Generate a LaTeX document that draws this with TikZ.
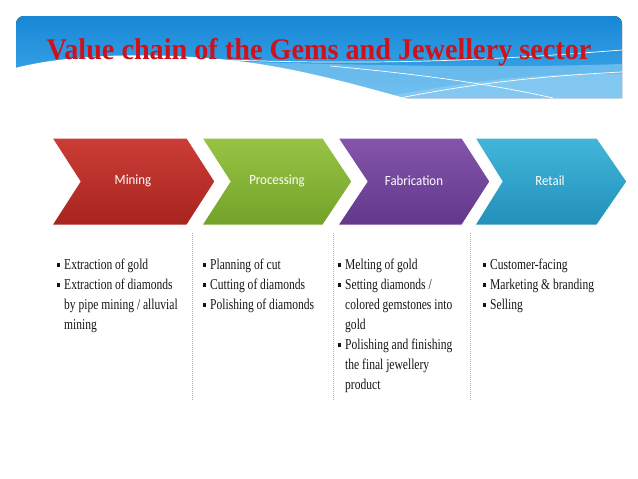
\documentclass[tikz,border=0pt]{standalone}
\usepackage{fontspec}
\setmainfont{Liberation Serif}
\newfontfamily\chevfont[FakeStretch=0.92]{Carlito}
\newfontfamily\listfont[FakeStretch=0.77]{Liberation Serif}
\newfontfamily\titlefont[FakeStretch=0.94]{Liberation Serif}

\definecolor{bannertop}{HTML}{1787D6}
\definecolor{bannerbot}{HTML}{45ACEB}
\definecolor{bandblue}{HTML}{8CCDF3}
\definecolor{titlered}{HTML}{CF111B}
\definecolor{minetop}{HTML}{CB3D36}
\definecolor{minebot}{HTML}{A8241F}
\definecolor{proctop}{HTML}{97C443}
\definecolor{procbot}{HTML}{74A22A}
\definecolor{fabtop}{HTML}{8355AB}
\definecolor{fabbot}{HTML}{62388C}
\definecolor{rettop}{HTML}{41B6DA}
\definecolor{retbot}{HTML}{2390BA}
\definecolor{sepgray}{HTML}{9DB3C8}

\newcommand{\sqbul}{\makebox[7pt][l]{\raisebox{2.5pt}{\rule{3pt}{3.5pt}}}}
\newcommand{\ind}{\hspace*{7pt}}

\tikzset{
  chev/.style={draw=white, line width=1pt},
  chevlabel/.style={text=white, font=\chevfont\fontsize{14}{16}\selectfont},
  steplist/.style={anchor=north west, inner sep=0pt, align=left, text=black!92,
                   font=\listfont\fontsize{15}{20}\selectfont},
  sepline/.style={draw=sepgray, densely dotted, line width=1pt},
}

\begin{document}
\begin{tikzpicture}[x=1pt,y=-1pt]

	\useasboundingbox (0,0) rectangle (638,479);

	% banner
	\fill[top color=bannertop, bottom color=bannerbot] (16,98) -- (16,24) arc[start angle=180, end angle=270, radius=8] -- (614,16) arc[start angle=270, end angle=360, radius=8] -- (622,98) -- cycle;
	\fill[bandblue, opacity=0.6] (150,60) .. controls (300,62) and (450,70) .. (622,64) -- (622,98) -- (300,98) -- cycle;
	\fill[bandblue, opacity=0.7] (380,98) .. controls (470,80) and (550,72) .. (622,74) -- (622,98) -- cycle;
	\fill[white] (15,68) .. controls (70,54) and (150,52) .. (230,60) .. controls (300,68) and (360,86) .. (410,99.5) -- (15,99.5) -- cycle;
	\draw[white, line width=0.7pt] (230,60) .. controls (400,66) and (520,58) .. (622,50);
	\draw[white, line width=0.7pt] (330,66) .. controls (430,75) and (500,86) .. (553,98);
	\draw[white, line width=0.7pt] (400,98) .. controls (470,84) and (540,76) .. (622,72);

	\node[anchor=base, text=titlered, font=\titlefont\bfseries\fontsize{30}{32}\selectfont] (title) at (319,59) {Value chain of the Gems and Jewellery sector};

	% chevrons
	\path[chev, top color=minetop, bottom color=minebot] (52,138) -- (187,138) -- (215,181.5) -- (187,225) -- (52,225) -- (80,181.5) -- cycle;
	\path[chev, top color=proctop, bottom color=procbot] (202,138) -- (323,138) -- (352,181.5) -- (323,225) -- (202,225) -- (230,181.5) -- cycle;
	\path[chev, top color=fabtop, bottom color=fabbot] (338,138) -- (462,138) -- (490,181.5) -- (462,225) -- (338,225) -- (367,181.5) -- cycle;
	\path[chev, top color=rettop, bottom color=retbot] (475,138) -- (597,138) -- (627,181.5) -- (597,225) -- (475,225) -- (502,181.5) -- cycle;

	\node[chevlabel] (mining) at (133,181) {Mining};
	\node[chevlabel] (processing) at (277,181) {Processing};
	\node[chevlabel] (fabrication) at (414,181) {Fabrication};
	\node[chevlabel] (retail) at (550,181) {Retail};

	% separators
	\draw[sepline] (192,233) -- (192,400);
	\draw[sepline] (333,233) -- (333,400);
	\draw[sepline] (470,233) -- (470,400);

	% lists
	\node[steplist] (minelist) at (57,258.5) {\sqbul Extraction of gold\\ \sqbul Extraction of diamonds\\ \ind by pipe mining / alluvial\\ \ind mining};
	\node[steplist] (proclist) at (203,258.5) {\sqbul Planning of cut\\ \sqbul Cutting of diamonds\\ \sqbul Polishing of diamonds};
	\node[steplist] (fablist) at (338,258.5) {\sqbul Melting of gold\\ \sqbul Setting diamonds /\\ \ind colored gemstones into\\ \ind gold\\ \sqbul Polishing and finishing\\ \ind the final jewellery\\ \ind product};
	\node[steplist] (retlist) at (483,258.5) {\sqbul Customer-facing\\ \sqbul Marketing \& branding\\ \sqbul Selling};

\end{tikzpicture}
\end{document}
